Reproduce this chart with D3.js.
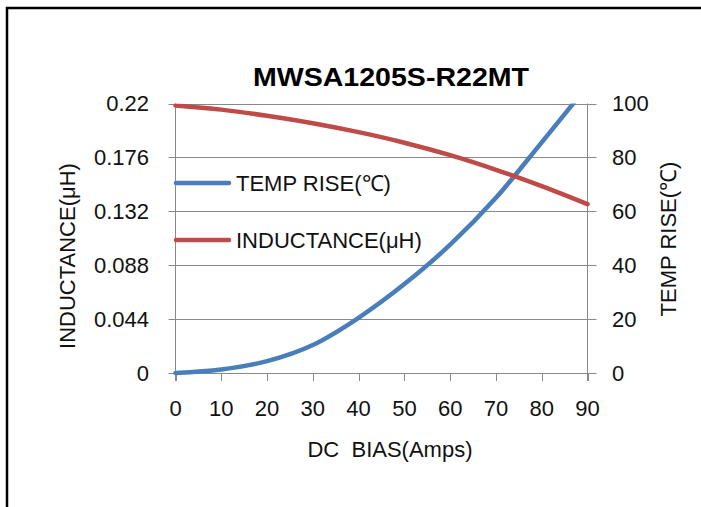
<!DOCTYPE html>
<html><head><meta charset="utf-8">
<script src="https://cdn.jsdelivr.net/npm/d3@7"></script>
<style>body{margin:0;background:#fff}svg{display:block}text{white-space:pre}</style>
</head><body><svg id="c" width="701" height="507"></svg>
<script>
const title = "MWSA1205S-R22MT";
const bias = [0,10,20,30,40,50,60,70,80,90];
const inductance = [0.2184,0.2150,0.2100,0.2039,0.1966,0.1880,0.1778,0.1659,0.1525,0.1378];
const tempRise = [0,1.3,4.4,10.4,20.5,33.0,47.6,65.0,85.6,106.5];
const leftTicks = [0,0.044,0.088,0.132,0.176,0.22];
const rightTicks = [0,20,40,60,80,100];
const xTicks = [0,10,20,30,40,50,60,70,80,90];
const xTitle = "DC  BIAS(Amps)";
const yLeftTitle = "INDUCTANCE(μH)";
const yRightTitle = "TEMP RISE(℃)";
const seriesNames = ["TEMP RISE(℃)","INDUCTANCE(μH)"];
const colors = {temp:"#4A7EBB", ind:"#BE4B48"};

const svg = d3.select("#c");
const font = "'Liberation Sans', Arial, sans-serif";
const L=175.5, R=587.5, T=103.5, B=373;
const x = d3.scaleLinear().domain([0,90]).range([L,R]);
const yL = d3.scaleLinear().domain([0,0.22]).range([B,T]);
const yR = d3.scaleLinear().domain([0,100]).range([B,T]);

// frame
svg.append("line").attr("x1",6).attr("x2",701).attr("y1",8).attr("y2",8).attr("stroke","#000").attr("stroke-width",2.5);
svg.append("line").attr("x1",7).attr("x2",7).attr("y1",7).attr("y2",507).attr("stroke","#000").attr("stroke-width",2.5);

const grid = "#898989";
svg.append("g").selectAll("line").data(leftTicks).join("line")
  .attr("x1",L-7).attr("x2",R+9)
  .attr("y1",d=>Math.round(yL(d))+0.5).attr("y2",d=>Math.round(yL(d))+0.5)
  .attr("stroke",grid).attr("stroke-width",1);
svg.append("line").attr("x1",L).attr("x2",L).attr("y1",T).attr("y2",B+8).attr("stroke",grid);
svg.append("line").attr("x1",R).attr("x2",R).attr("y1",T).attr("y2",B+8).attr("stroke",grid);
svg.append("g").selectAll("line").data(xTicks).join("line")
  .attr("x1",d=>Math.round(x(d))+0.5).attr("x2",d=>Math.round(x(d))+0.5)
  .attr("y1",B).attr("y2",B+8).attr("stroke",grid);

const fs = 22;
svg.append("g").selectAll("text").data(leftTicks).join("text")
  .attr("x",149).attr("y",d=>yL(d)).attr("dy","0.35em").attr("text-anchor","end")
  .attr("font-family",font).attr("font-size",fs).attr("fill","#111")
  .text(d=>d===0?"0":String(d));
svg.append("g").selectAll("text").data(rightTicks).join("text")
  .attr("x",612).attr("y",d=>yR(d)).attr("dy","0.35em").attr("text-anchor","start")
  .attr("font-family",font).attr("font-size",fs).attr("fill","#111")
  .text(d=>d);
svg.append("g").selectAll("text").data(xTicks).join("text")
  .attr("x",d=>x(d)).attr("y",416).attr("text-anchor","middle")
  .attr("font-family",font).attr("font-size",fs).attr("fill","#111")
  .text(d=>d);

svg.append("text").attr("x",391).attr("y",86).attr("text-anchor","middle")
  .attr("font-family",font).attr("font-size",25).attr("font-weight","bold").attr("fill","#000")
  .attr("textLength",276).attr("lengthAdjust","spacingAndGlyphs").text(title);
svg.append("text").attr("x",390).attr("y",457).attr("text-anchor","middle")
  .attr("font-family",font).attr("font-size",fs).attr("fill","#111").text(xTitle);
svg.append("text").attr("transform","translate(75,256) rotate(-90)").attr("text-anchor","middle")
  .attr("font-family",font).attr("font-size",fs).attr("fill","#111").text(yLeftTitle);
svg.append("text").attr("transform","translate(676,239) rotate(-90)").attr("text-anchor","middle")
  .attr("font-family",font).attr("font-size",fs).attr("fill","#111").text(yRightTitle);

svg.append("clipPath").attr("id","pc").append("rect").attr("x",L-5).attr("y",T).attr("width",R-L+10).attr("height",B-T+5);

const lineInd = d3.line().x((d,i)=>x(bias[i])).y(d=>yL(d)).curve(d3.curveMonotoneX);
const lineTemp = d3.line().x((d,i)=>x(bias[i])).y(d=>yR(d)).curve(d3.curveMonotoneX);
const g = svg.append("g").attr("clip-path","url(#pc)");
g.append("path").attr("d",lineTemp(tempRise)).attr("fill","none").attr("stroke",colors.temp).attr("stroke-width",4.5).attr("stroke-linecap","round");
g.append("path").attr("d",lineInd(inductance)).attr("fill","none").attr("stroke",colors.ind).attr("stroke-width",4.5).attr("stroke-linecap","round");

const leg = [{n:seriesNames[0],c:colors.temp,y:183},{n:seriesNames[1],c:colors.ind,y:240}];
const lg = svg.append("g");
leg.forEach(d=>{
  lg.append("line").attr("x1",176).attr("x2",229).attr("y1",d.y).attr("y2",d.y).attr("stroke",d.c).attr("stroke-width",4.5).attr("stroke-linecap","round");
  lg.append("text").attr("x",236).attr("y",d.y).attr("dy","0.36em").attr("font-family",font).attr("font-size",fs).attr("fill","#111").text(d.n);
});
</script></body></html>
